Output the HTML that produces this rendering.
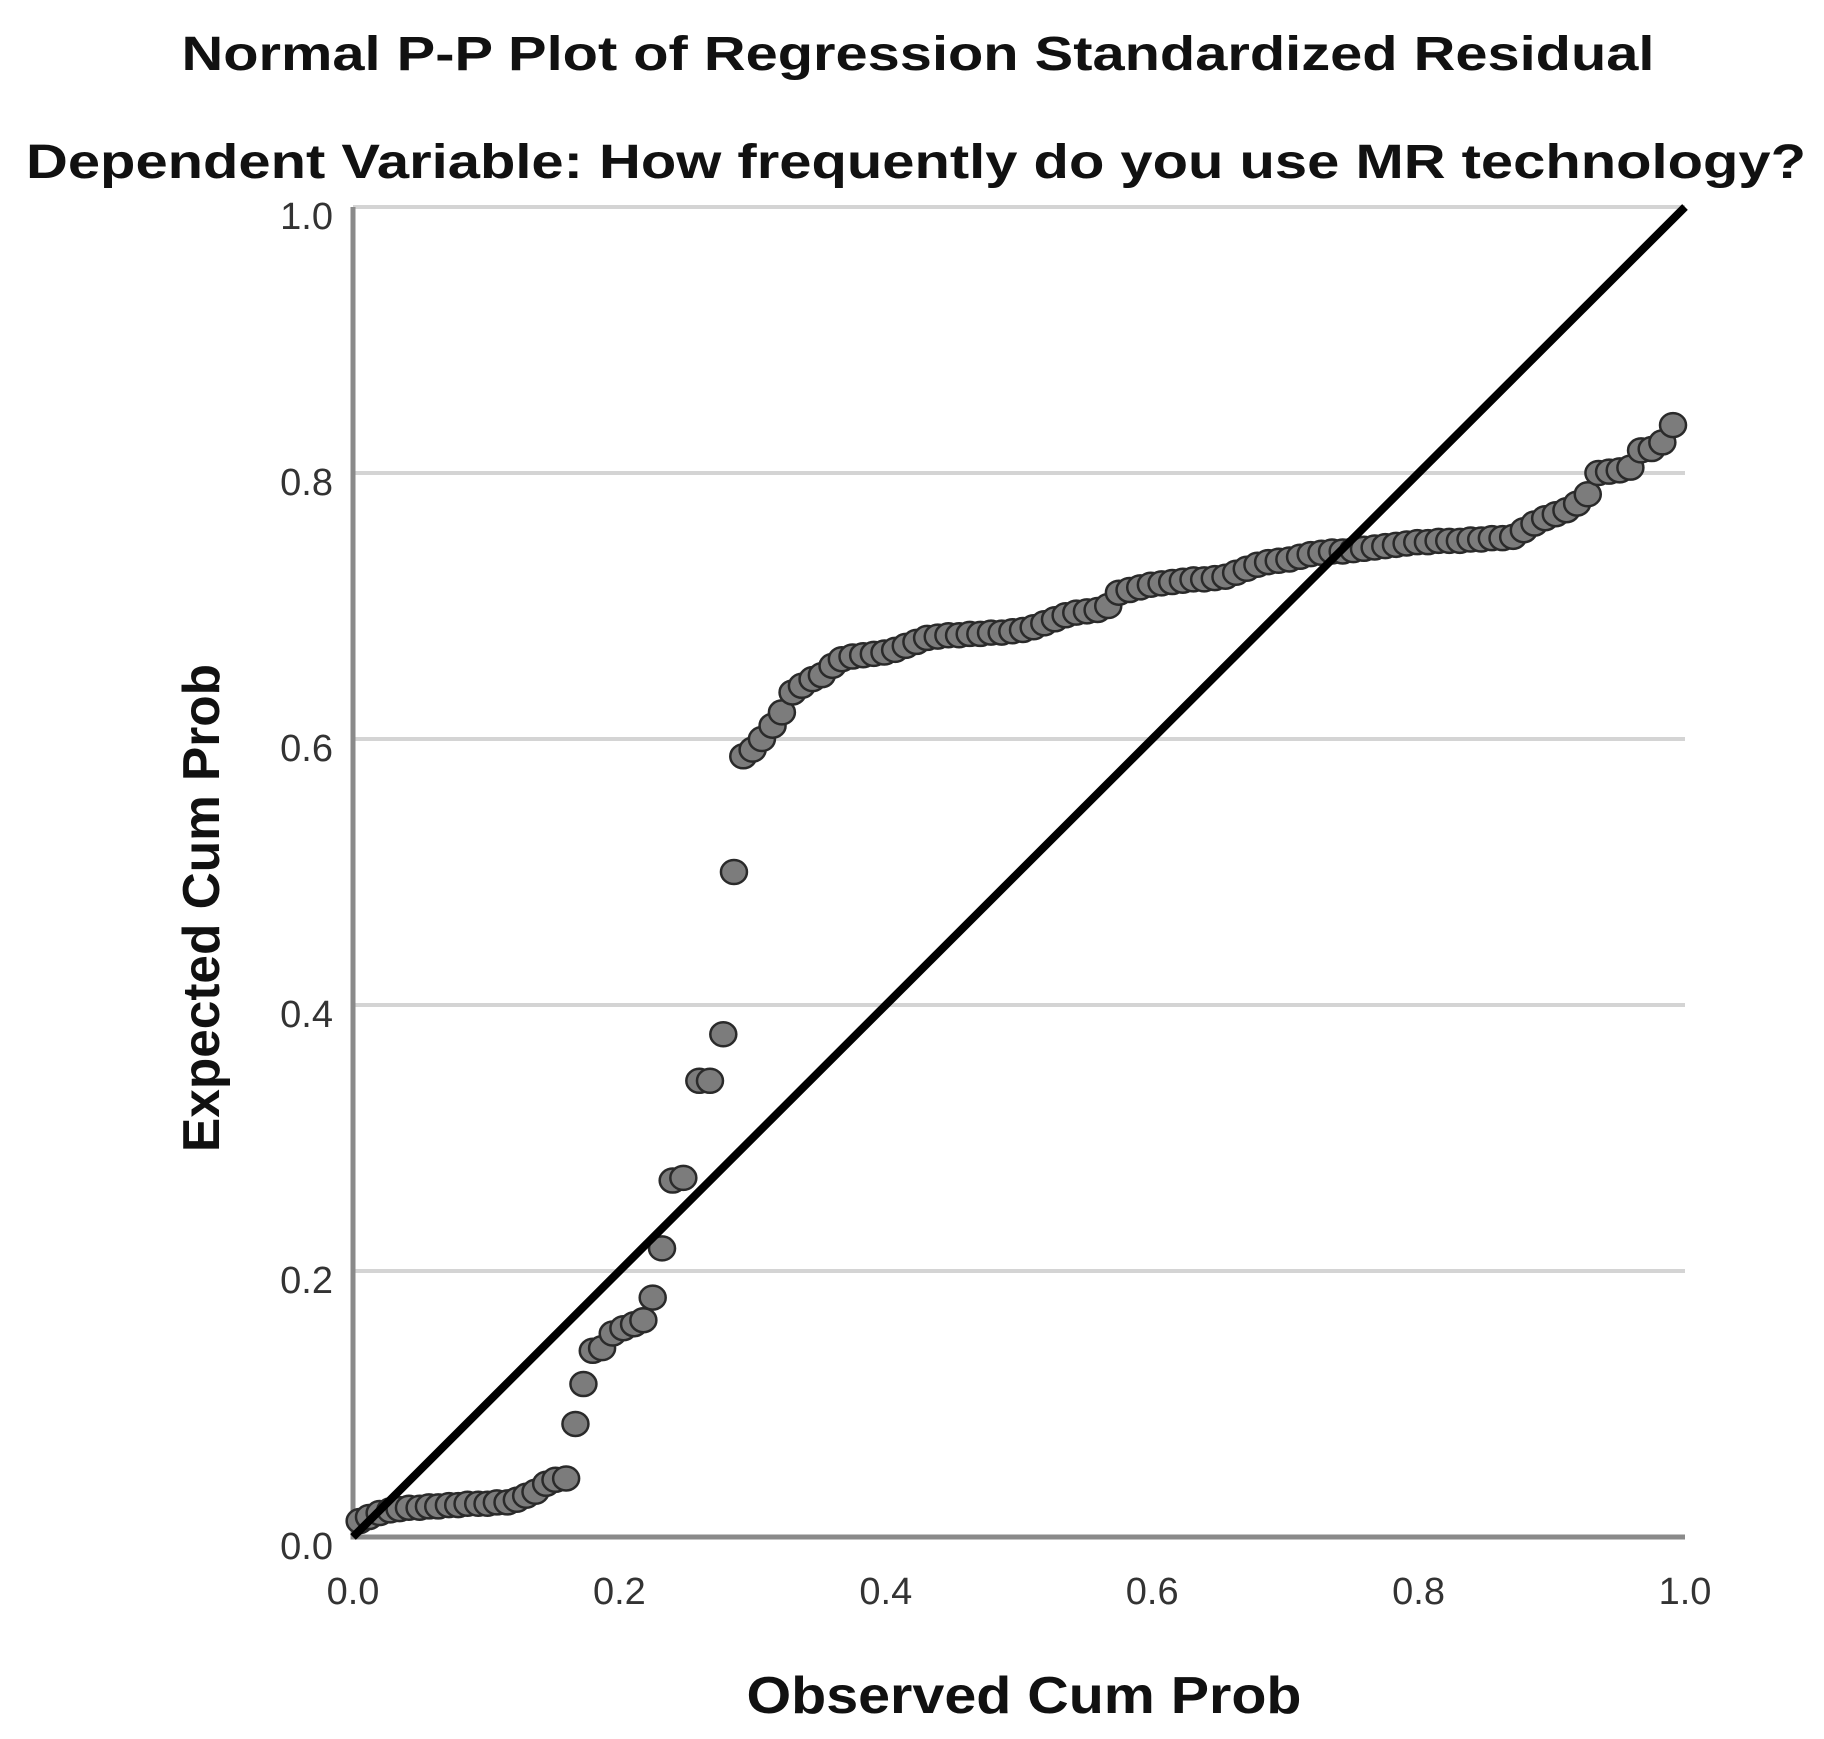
<!DOCTYPE html>
<html><head><meta charset="utf-8"><style>
html,body{margin:0;padding:0;background:#fff;}
svg{display:block;font-family:"Liberation Sans",Arial,sans-serif;}
</style></head><body>
<svg id="chart" width="1824" height="1739" viewBox="0 0 1824 1739" xmlns="http://www.w3.org/2000/svg">
<text x="918" y="70" text-anchor="middle" font-size="48" font-weight="bold" fill="#111" textLength="1473" lengthAdjust="spacingAndGlyphs">Normal P-P Plot of Regression Standardized Residual</text>
<text x="916" y="178" text-anchor="middle" font-size="48" font-weight="bold" fill="#111" textLength="1780" lengthAdjust="spacingAndGlyphs">Dependent Variable: How frequently do you use MR technology?</text>
<g id="grid"></g><g id="axes"></g><g id="ref"></g><g id="pts"></g><g id="labels"></g>
<text x="1024" y="1713" text-anchor="middle" font-size="52" font-weight="bold" fill="#111" textLength="555" lengthAdjust="spacingAndGlyphs">Observed Cum Prob</text>
<text transform="translate(219,908) rotate(-90)" text-anchor="middle" font-size="52" font-weight="bold" fill="#111" textLength="488" lengthAdjust="spacingAndGlyphs">Expected Cum Prob</text>
</svg>
<script>
const xTicks=[0,0.2,0.4,0.6,0.8,1.0];
const yTicks=[0,0.2,0.4,0.6,0.8,1.0];
const tickLabels=["0.0","0.2","0.4","0.6","0.8","1.0"];
const observed=[0.005,0.012,0.02,0.028,0.035,0.042,0.05,0.057,0.064,0.072,0.079,0.086,0.094,0.101,0.108,0.116,0.123,0.13,0.137,0.145,0.152,0.16,
0.167,0.173,0.18,0.187,0.195,0.203,0.211,0.218,0.225,0.232,0.24,0.248,0.26,0.268,0.278,0.286,0.293,0.3,0.307,0.315,0.322,0.33,0.337,0.345,0.352,0.36,0.367,
0.375,0.383,0.391,0.399,0.407,0.415,0.423,0.431,0.439,0.447,0.455,0.463,0.471,0.479,0.487,0.495,0.503,0.511,0.519,0.527,0.535,0.543,0.551,0.559,0.567,0.575,0.583,0.591,0.599,0.607,0.615,0.623,0.631,0.639,0.647,0.655,0.663,0.671,0.679,0.687,0.695,0.703,0.711,0.719,0.727,0.735,0.743,0.751,0.759,0.767,0.775,0.783,0.791,0.799,0.807,0.815,0.823,0.831,0.839,0.847,0.855,0.863,0.871,0.879,0.887,0.895,0.903,0.911,0.919,0.927,0.935,0.943,0.951,0.959,0.967,0.975,0.983,0.991];
const expected=[0.012,0.015,0.018,0.02,0.021,0.022,0.022,0.023,0.023,0.024,0.024,0.025,0.025,0.025,0.026,0.026,0.028,0.031,0.034,0.04,0.043,0.044,
0.085,0.115,0.14,0.142,0.153,0.157,0.16,0.163,0.18,0.217,0.268,0.27,0.343,0.343,0.378,0.5,0.587,0.592,0.6,0.61,0.62,0.635,0.64,0.645,0.648,0.655,0.66,
0.662,0.663,0.664,0.665,0.667,0.670,0.673,0.676,0.677,0.678,0.678,0.679,0.679,0.680,0.680,0.681,0.682,0.684,0.687,0.690,0.693,0.695,0.696,0.697,0.700,0.710,0.712,0.714,0.716,0.717,0.718,0.719,0.720,0.720,0.721,0.722,0.725,0.728,0.731,0.733,0.734,0.735,0.737,0.739,0.740,0.741,0.741,0.742,0.743,0.744,0.745,0.746,0.747,0.748,0.748,0.749,0.749,0.749,0.750,0.750,0.751,0.751,0.752,0.757,0.762,0.766,0.769,0.772,0.777,0.784,0.800,0.801,0.802,0.804,0.817,0.818,0.823,0.836];
const X0=353,X1=1685,Y0=1537,Y1=207;
const sx=v=>X0+(X1-X0)*v, sy=v=>Y0-(Y0-Y1)*v;
const NS="http://www.w3.org/2000/svg";
function mk(tag,parent){const e=document.createElementNS(NS,tag);document.getElementById(parent).appendChild(e);return e;}
yTicks.forEach((t,i)=>{
  if(t>0){const g=mk('line','grid');
    
    
    g.setAttribute('x1',X0);g.setAttribute('x2',X1);g.setAttribute('y1',sy(t));g.setAttribute('y2',sy(t));
    g.setAttribute('stroke','#d4d4d4');g.setAttribute('stroke-width','4');}
  const l=mk('text','labels');
  
  
  l.setAttribute('x',X0-20);l.setAttribute('y',sy(t)+22);l.setAttribute('text-anchor','end');
  l.setAttribute('font-size','38');l.setAttribute('fill','#333');l.textContent=tickLabels[i];
});
xTicks.forEach((t,i)=>{
  const l=mk('text','labels');
  
  
  l.setAttribute('x',sx(t));l.setAttribute('y',Y0+67);l.setAttribute('text-anchor','middle');
  l.setAttribute('font-size','38');l.setAttribute('fill','#333');l.textContent=tickLabels[i];
});
const ax=mk('path','axes');


ax.setAttribute('d',`M${X0},${Y1} L${X0},${Y0} L${X1},${Y0}`);
ax.setAttribute('fill','none');ax.setAttribute('stroke','#8a8a8a');ax.setAttribute('stroke-width','5');
const rl=mk('line','ref');


rl.setAttribute('x1',sx(0));rl.setAttribute('y1',sy(0));rl.setAttribute('x2',sx(1));rl.setAttribute('y2',sy(1));
rl.setAttribute('stroke','#000');rl.setAttribute('stroke-width','8');
observed.forEach((v,i)=>{
  const c=mk('ellipse','pts');
  
  
  c.setAttribute('cx',sx(v));c.setAttribute('cy',sy(expected[i]));c.setAttribute('rx','13');c.setAttribute('ry','12');
  c.setAttribute('fill','#7c7c7c');c.setAttribute('stroke','#2a2a2a');c.setAttribute('stroke-width','2.5');
});
document.getElementById('chart').appendChild(document.getElementById('ref'));
</script>
</body></html>
